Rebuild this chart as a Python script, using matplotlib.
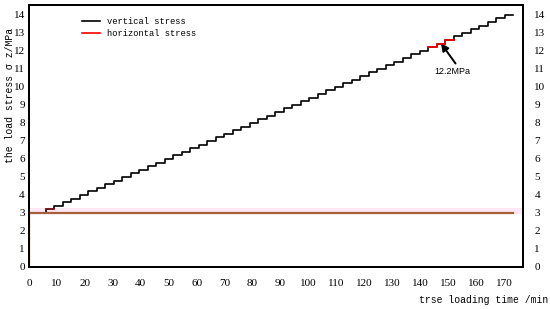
import matplotlib
matplotlib.use('Agg')
import matplotlib.pyplot as plt

# loading steps (min, MPa)
step_time = [0.0, 6.0, 9.0, 12.1, 15.1, 18.2, 21.2, 24.2, 27.3, 30.3, 33.4,
             36.4, 39.4, 42.5, 45.5, 48.6, 51.6, 54.6, 57.7, 60.7, 63.8,
             66.8, 69.8, 72.9, 75.9, 79.0, 82.0, 85.0, 88.1, 91.1, 94.2,
             97.2, 100.2, 103.3, 106.3, 109.4, 112.4, 115.4, 118.5, 121.5, 124.6,
             127.6, 130.6, 133.7, 136.7, 139.8, 142.8, 145.8, 148.9, 151.9, 155.0,
             158.0, 161.0, 164.1, 167.1, 170.2, 173.2]
vertical_stress = [3.0, 3.2, 3.4, 3.6, 3.8, 4.0, 4.2, 4.4, 4.6, 4.8, 5.0,
                   5.2, 5.4, 5.6, 5.8, 6.0, 6.2, 6.4, 6.6, 6.8, 7.0,
                   7.2, 7.4, 7.6, 7.8, 8.0, 8.2, 8.4, 8.6, 8.8, 9.0,
                   9.2, 9.4, 9.6, 9.8, 10.0, 10.2, 10.4, 10.6, 10.8, 11.0,
                   11.2, 11.4, 11.6, 11.8, 12.0, 12.2, 12.4, 12.6, 12.8, 13.0,
                   13.2, 13.4, 13.6, 13.8, 14.0, 14.0]
red_time = [142.8, 145.8, 148.9, 151.9]
red_stress = [12.2, 12.4, 12.6, 12.6]
first_time = [6.0, 9.0]
first_stress = [3.2, 3.2]
horiz_time = [0.0, 0.0, 173.2]
horiz_stress = [0.0, 3.0, 3.0]

mono = 'Liberation Mono'
serif = 'Liberation Serif'

fig = plt.figure(figsize=(5.5, 3.09), dpi=100)
ax = fig.add_axes([0.0527, 0.136, 0.8985, 0.848])

ax.axhspan(2.93, 3.27, color='#fde8f4', lw=0, zorder=1)
ax.plot(step_time, vertical_stress, drawstyle='steps-post', color='black', lw=1.2,
        label='vertical stress', zorder=3)
ax.plot([], [], color='red', lw=1.2, label='horizontal stress')
ax.plot(red_time, red_stress, drawstyle='steps-post', color='red', lw=1.2, zorder=4)
ax.plot(first_time, first_stress, color='#8b1a1a', lw=1.2, zorder=4)
ax.plot(horiz_time, horiz_stress, color='#a5603a', lw=1.6, zorder=5)

# arrow pointing at the 12.2 MPa step, label underneath
ax.annotate('', xy=(147.4, 12.42), xytext=(152.6, 11.3),
            arrowprops=dict(arrowstyle='-|>', color='black', lw=1.4,
                            mutation_scale=11, shrinkA=0, shrinkB=0))
ax.text(151.5, 10.85, '12.2MPa', ha='center', va='center', fontsize=6.5,
        family='Liberation Sans')

ax.set_xlim(0, 176.8)
ax.set_ylim(0, 14.55)
ax.set_xticks(range(0, 171, 10))
ax.set_yticks(range(0, 15))
ax.tick_params(axis='both', length=0, labelsize=8)
ax.tick_params(axis='x', pad=9)
ax.tick_params(axis='y', pad=3)
for lab in ax.get_xticklabels() + ax.get_yticklabels():
    lab.set_family(serif)
for spine in ax.spines.values():
    spine.set_linewidth(1.4)

# right hand scale repeats the stress axis
ax2 = ax.twinx()
ax2.set_ylim(ax.get_ylim())
ax2.set_yticks(range(0, 15))
ax2.tick_params(axis='y', length=0, labelsize=8, pad=8)
for lab in ax2.get_yticklabels():
    lab.set_family(serif)
for spine in ax2.spines.values():
    spine.set_linewidth(1.4)

leg = ax.legend(loc='upper left', bbox_to_anchor=(0.107, 0.955), frameon=False,
                prop={'family': mono, 'size': 6.3}, handlelength=2.1,
                handletextpad=0.8, labelspacing=0.4, borderpad=0, borderaxespad=0)

fig.text(0.997, 0.013, 'trse loading time /min', ha='right', va='bottom',
         family=mono, fontsize=7)
fig.text(0.018, 0.69, 'the load stress \u03c3 z/MPa', rotation=90, ha='center',
         va='center', family=mono, fontsize=7)

fig.savefig('out.png', dpi=100)
